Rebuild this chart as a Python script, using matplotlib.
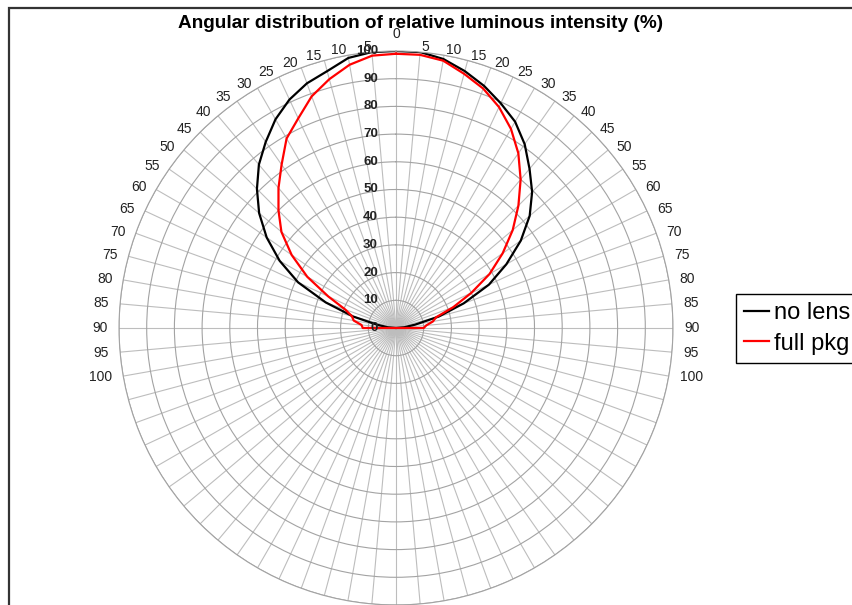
import numpy as np
import matplotlib
matplotlib.use('Agg')
import matplotlib.pyplot as plt
from matplotlib.transforms import offset_copy

plt.rcParams['font.family'] = ['Liberation Sans', 'DejaVu Sans']

# angle categories (deg), right side 0..100, left side 100..5 (clockwise order)
angles_right = list(range(0, 101, 5))
angles_left = list(range(100, 0, -5))
n_blank = 31

# relative intensity (%)
no_lens_right = [100, 100, 98.6, 96, 93, 89.5, 86, 81, 75, 69.5, 63, 55, 46, 37, 26, 16, 7, 3, 0, 0, 0]
no_lens_left = [0, 0, 0, 3, 7, 16, 27, 39, 48.5, 57, 64.5, 71, 77, 82, 87, 91, 94, 96, 99, 100]
full_pkg_right = [99, 99, 98, 95, 92, 88, 83, 77, 70, 62.5, 55, 47, 39, 30, 22, 15, 13.5, 11, 10, 0, 0]
full_pkg_left = [0, 0, 12, 12.5, 15.5, 16.5, 19.5, 27, 37, 46, 54, 60, 66, 72, 79, 83.5, 89, 93, 96.5, 98.7]

r_ticks = list(range(0, 101, 10))

labels = [str(a) for a in angles_right] + [''] * n_blank + [str(a) for a in angles_left]
no_lens = no_lens_right + [0] * n_blank + no_lens_left
full_pkg = full_pkg_right + [0] * n_blank + full_pkg_left

theta = np.deg2rad(np.arange(len(labels)) * 5)
theta_c = np.append(theta, theta[0])

fig = plt.figure(figsize=(8.52, 6.05), dpi=100)
ax = fig.add_axes([(396 - 277) / 852, 0, 554 / 852, 554 / 605], projection='polar')
ax.set_theta_zero_location('N')
ax.set_theta_direction(-1)

ax.plot(theta_c, np.append(no_lens, no_lens[0]), color='black', lw=1.6, label='no lens')
ax.plot(theta_c, np.append(full_pkg, full_pkg[0]), color='red', lw=1.6, label='full pkg')

ax.set_ylim(0, 100)
ax.set_yticks(r_ticks)
ax.set_yticklabels([])
ax.set_xticks(theta)
ax.set_xticklabels([])
ax.xaxis.grid(True, color='#bdbdbd', lw=0.8)
ax.yaxis.grid(True, color='#a3a3a3', lw=0.8)
ax.spines['polar'].set_color('#a3a3a3')
ax.spines['polar'].set_linewidth(0.8)

# category labels, placed Excel-style just outside the outer ring
for th, lab in zip(theta, labels):
    if not lab:
        continue
    s, c = np.sin(th), np.cos(th)
    if abs(s) < 1e-6:
        ha, dx, dy = 'center', 0, 17
    else:
        ha = 'left' if s > 0 else 'right'
        dx, dy = 11 * s, 5 * c
    ax.text(th, 100, lab, ha=ha, va='center', fontsize=10, color='#222222',
            transform=offset_copy(ax.transData, fig=fig, x=dx, y=dy, units='dots'))

# bold value-axis labels along the 0 deg spoke
tr = offset_copy(ax.transData, fig=fig, x=-13, y=0, units='points')
for r in r_ticks:
    ax.text(0, r, str(r), ha='right', va='center', fontsize=9.5,
            fontweight='bold', color='#222222', transform=tr)

fig.text(421 / 852, 1 - 23 / 605, 'Angular distribution of relative luminous intensity (%)',
         ha='center', va='center', fontsize=13.7, fontweight='bold')

fig.legend(loc='upper left', bbox_to_anchor=(736 / 852, 1 - 294 / 605), fontsize=17,
           frameon=True, fancybox=False, edgecolor='black', framealpha=1,
           handlelength=1.05, handletextpad=0.25, borderpad=0.33, labelspacing=0.38,
           borderaxespad=0)

# chart area border (cropped on the right and bottom)
fig.add_artist(plt.Rectangle((9 / 852, -0.1), 1.2, 1.1 - 7.5 / 605, transform=fig.transFigure,
                             fill=False, lw=1.6, ec='#333333'))

fig.savefig('out.png', dpi=100)
